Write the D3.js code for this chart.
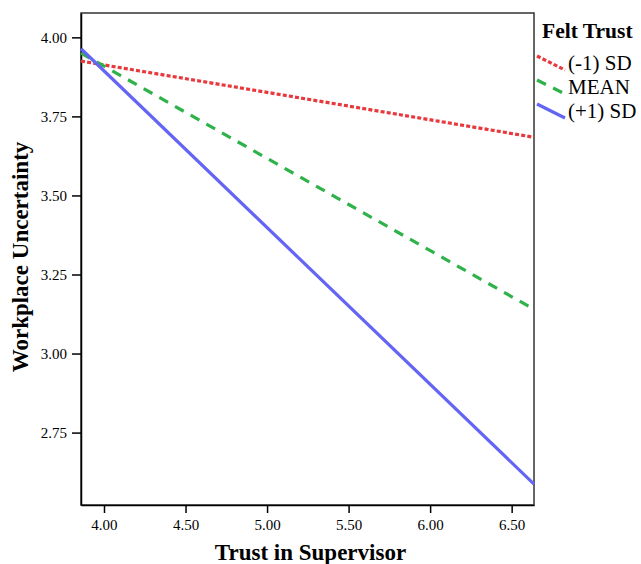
<!DOCTYPE html>
<html>
<head>
<meta charset="utf-8">
<script src="https://cdn.jsdelivr.net/npm/d3@7"></script>
<style>
  body { margin: 0; background: #fff; }
  svg { display: block; font-family: "Liberation Serif", "Times New Roman", serif; }
  .tick text { font-size: 15px; fill: #000; }
</style>
</head>
<body>
<div id="viz"></div>
<script>
// Trust in Supervisor range and simple slopes
var xRange = [3.859, 6.637];
var yRange = [2.521, 4.077];
var xTicks = [4.00, 4.50, 5.00, 5.50, 6.00, 6.50];
var yTicks = [2.75, 3.00, 3.25, 3.50, 3.75, 4.00];

var groups = ["(-1) SD", "MEAN", "(+1) SD"];
var startVals = [3.925, 3.950, 3.964];
var endVals = [3.684, 3.140, 2.587];
var colors = ["#e8383d", "#2fb24a", "#6464f5"];
var dashes = ["4,2.2", "10,8", null];

var margin = {top: 13, left: 81, right: 107, bottom: 59},
    W = 641, H = 564,
    width = W - margin.left - margin.right,
    height = H - margin.top - margin.bottom;

var svg = d3.select("#viz").append("svg")
    .attr("width", W)
    .attr("height", H);

var g = svg.append("g")
    .attr("transform", "translate(" + margin.left + "," + margin.top + ")");

var x = d3.scaleLinear().domain(xRange).range([0, width]);
var y = d3.scaleLinear().domain(yRange).range([height, 0]);

// frame
g.append("rect")
    .attr("width", width)
    .attr("height", height)
    .attr("fill", "none")
    .attr("stroke", "#333")
    .attr("stroke-width", 1.5);

var xAxis = g.append("g")
    .attr("transform", "translate(0," + height + ")")
    .call(d3.axisBottom(x).tickValues(xTicks).tickFormat(d3.format(".2f")).tickSize(8).tickSizeOuter(0));
var yAxis = g.append("g")
    .call(d3.axisLeft(y).tickValues(yTicks).tickFormat(d3.format(".2f")).tickSize(9).tickSizeOuter(0));

[xAxis, yAxis].forEach(function(a){
  a.select(".domain").attr("stroke", "#000").attr("stroke-width", 1.5);
  a.selectAll(".tick line").attr("stroke", "#000").attr("stroke-width", 1.5);
  a.attr("font-family", null).attr("font-size", null);
});
xAxis.selectAll(".tick text").attr("dy", "0.75em").attr("y", 14);
yAxis.selectAll(".tick text").attr("x", -14);

// lines
groups.forEach(function(name, i){
  var pts = [[xRange[0], startVals[i]], [xRange[1], endVals[i]]];
  g.append("path")
      .datum(pts)
      .attr("fill", "none")
      .attr("stroke", colors[i])
      .attr("stroke-width", 3.2)
      .attr("stroke-dasharray", dashes[i])
      .attr("d", d3.line().x(function(d){ return x(d[0]); }).y(function(d){ return y(d[1]); }));
});

// axis titles
svg.append("text")
    .attr("x", margin.left + width / 2 + 3)
    .attr("y", 560)
    .attr("text-anchor", "middle")
    .attr("font-weight", "bold")
    .attr("font-size", 23)
    .text("Trust in Supervisor");

svg.append("text")
    .attr("transform", "translate(28," + (margin.top + height / 2 - 2) + ") rotate(-90)")
    .attr("text-anchor", "middle")
    .attr("font-weight", "bold")
    .attr("font-size", 23)
    .text("Workplace Uncertainty");

// legend
var leg = svg.append("g").attr("transform", "translate(542,0)");
leg.append("text")
    .attr("x", 0)
    .attr("y", 38)
    .attr("font-weight", "bold")
    .attr("font-size", 21.5)
    .text("Felt Trust");

groups.forEach(function(name, i){
  var cy = 63 + i * 24;
  leg.append("line")
      .attr("x1", -5).attr("y1", cy - 7)
      .attr("x2", 23).attr("y2", cy + 7)
      .attr("stroke", colors[i])
      .attr("stroke-width", 3.2)
      .attr("stroke-dasharray", dashes[i]);
  leg.append("text")
      .attr("x", 26)
      .attr("y", cy + 7)
      .attr("font-size", 21)
      .text(name);
});
</script>
</body>
</html>
